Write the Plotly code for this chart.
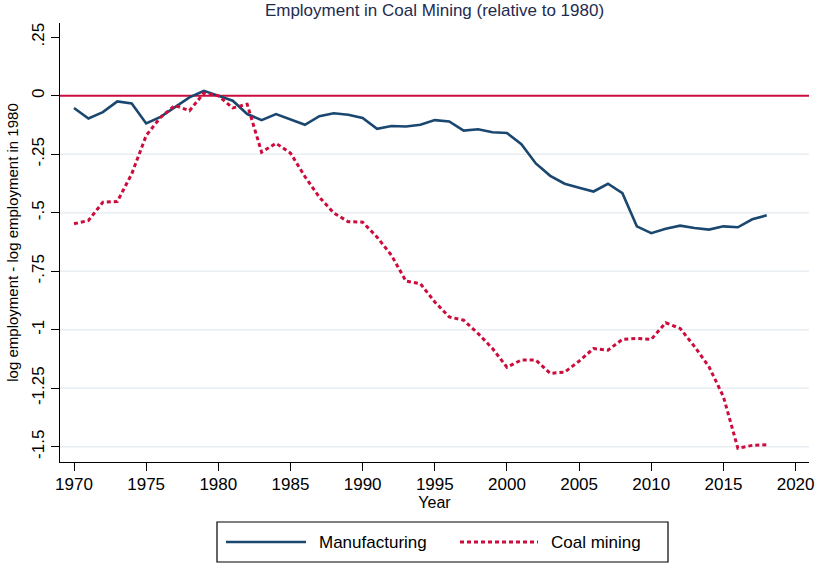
import plotly.graph_objects as go

years = list(range(1970, 2019))

manufacturing = [
    -0.052, -0.097, -0.070, -0.024, -0.033, -0.118, -0.090, -0.047, -0.007, 0.021,
    0.000, -0.021, -0.078, -0.104, -0.078, -0.100, -0.124, -0.087, -0.075, -0.081,
    -0.095, -0.141, -0.129, -0.131, -0.124, -0.104, -0.110, -0.149, -0.143, -0.156,
    -0.159, -0.207, -0.289, -0.342, -0.376, -0.393, -0.409, -0.376, -0.416, -0.558,
    -0.587, -0.568, -0.555, -0.565, -0.572, -0.558, -0.562, -0.528, -0.511,
]

coal = [
    -0.547, -0.533, -0.455, -0.452, -0.334, -0.170, -0.092, -0.041, -0.064, 0.012,
    0.000, -0.052, -0.036, -0.241, -0.203, -0.245, -0.345, -0.433, -0.501, -0.538,
    -0.540, -0.604, -0.682, -0.792, -0.803, -0.881, -0.945, -0.959, -1.016, -1.080,
    -1.160, -1.129, -1.129, -1.186, -1.181, -1.134, -1.080, -1.087, -1.041, -1.037,
    -1.041, -0.970, -0.994, -1.072, -1.158, -1.286, -1.506, -1.494, -1.491,
]

series_names = ["Manufacturing", "Coal mining"]
x_ticks = [1970, 1975, 1980, 1985, 1990, 1995, 2000, 2005, 2010, 2015, 2020]
y_ticks = [0.25, 0, -0.25, -0.5, -0.75, -1, -1.25, -1.5]
y_tick_labels = [".25", "0", "-.25", "-.5", "-.75", "-1", "-1.25", "-1.5"]
reference_level = 0

NAVY = "#1a476f"
CRIMSON = "#cc0c3c"
FONT = "Liberation Sans, Arial, sans-serif"

fig = go.Figure()

for yv in y_ticks:
    if yv < reference_level:
        fig.add_shape(type="line", xref="paper", yref="y", x0=0, x1=1, y0=yv, y1=yv,
                      line=dict(color="#e8eef2", width=1.5), layer="below")

fig.add_shape(type="line", xref="paper", yref="y", x0=0, x1=1,
              y0=reference_level, y1=reference_level,
              line=dict(color=CRIMSON, width=2), layer="below")

fig.add_trace(go.Scatter(x=years, y=manufacturing, mode="lines", name=series_names[0],
                         line=dict(color=NAVY, width=2.6), showlegend=False))
fig.add_trace(go.Scatter(x=years, y=coal, mode="lines", name=series_names[1],
                         line=dict(color=CRIMSON, width=3, dash="4px,3px"), showlegend=False))

fig.update_layout(
    width=817, height=564,
    margin=dict(l=60, r=8, t=23, b=102, autoexpand=False),
    paper_bgcolor="white", plot_bgcolor="white",
    font=dict(family=FONT, color="black", size=16),
    title=dict(text="Employment in Coal Mining (relative to 1980)",
               font=dict(family=FONT, size=17, color="#1e2b50"),
               x=0.5, xanchor="center", xref="paper", y=1 - 10 / 564, yref="container",
               yanchor="middle", automargin=False),
    xaxis=dict(range=[1969.03, 2020.93], tickvals=x_ticks, showgrid=False, zeroline=False,
               showline=True, linecolor="black", linewidth=1.3, automargin=False,
               ticks="outside", ticklen=8, tickcolor="black", tickwidth=1.3,
               ticklabelstandoff=-2,
               tickfont=dict(size=17, family=FONT),
               title=dict(text="Year", font=dict(size=16, family=FONT), standoff=2)),
    yaxis=dict(range=[-1.565, 0.311], tickvals=y_ticks, ticktext=y_tick_labels,
               tickangle=-90, showgrid=False, zeroline=False, automargin=False,
               showline=True, linecolor="black", linewidth=1.3,
               ticks="outside", ticklen=8, tickcolor="black", tickwidth=1.3,
               tickfont=dict(size=17, family=FONT),
               title=dict(text="log employment - log employment in 1980",
                          font=dict(size=15, family=FONT), standoff=6)),
)

fig.add_shape(type="rect", xref="paper", yref="paper",
              x0=(217 - 60) / 749, x1=(668 - 60) / 749,
              y0=(462 - 562) / 439, y1=(462 - 522) / 439,
              line=dict(color="black", width=1.2), fillcolor="white")
leg_y = (462 - 542) / 439
fig.add_shape(type="line", xref="paper", yref="paper",
              x0=(226 - 60) / 749, x1=(306 - 60) / 749, y0=leg_y, y1=leg_y,
              line=dict(color=NAVY, width=2.6))
fig.add_shape(type="line", xref="paper", yref="paper",
              x0=(460 - 60) / 749, x1=(538 - 60) / 749, y0=leg_y, y1=leg_y,
              line=dict(color=CRIMSON, width=3, dash="4px,3px"))
fig.add_annotation(xref="paper", yref="paper", x=(317 - 60) / 749, y=leg_y,
                   text=series_names[0], showarrow=False, xanchor="left", yanchor="middle",
                   font=dict(size=17, family=FONT, color="black"))
fig.add_annotation(xref="paper", yref="paper", x=(549 - 60) / 749, y=leg_y,
                   text=series_names[1], showarrow=False, xanchor="left", yanchor="middle",
                   font=dict(size=17, family=FONT, color="black"))

fig.write_html("out.html", config={"displayModeBar": False},
               post_script="document.body.style.margin='0';document.body.style.overflow='hidden';")
